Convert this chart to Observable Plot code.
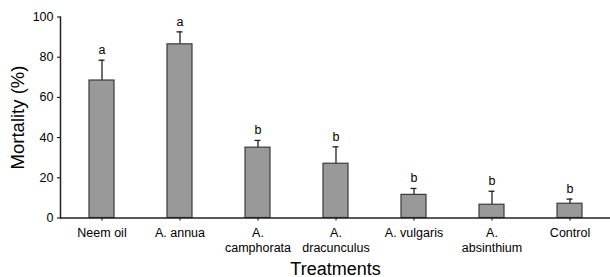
<!DOCTYPE html>
<html>
<head>
<meta charset="utf-8">
<script src="https://cdn.jsdelivr.net/npm/d3@7"></script>
<script src="https://cdn.jsdelivr.net/npm/@observablehq/plot@0.6"></script>
<style>
  body { margin: 0; background: #fff; }
</style>
</head>
<body>
<div id="chart"></div>
<script>
const categories = ["Neem oil", "A. annua", "A. camphorata", "A. dracunculus", "A. vulgaris", "A. absinthium", "Control"];
const tickLabels = ["Neem oil", "A. annua", "A.\ncamphorata", "A.\ndracunculus", "A. vulgaris", "A.\nabsinthium", "Control"];
const mortality = [68.4, 86.4, 35.0, 27.0, 11.5, 6.6, 7.1];
const errorTop = [78.5, 92.6, 38.6, 35.4, 14.7, 13.3, 9.4];
const letters = ["a", "a", "b", "b", "b", "b", "b"];
const yTicks = [0, 20, 40, 60, 80, 100];
const xTitle = "Treatments";
const yTitle = "Mortality (%)";

const data = categories.map((c, i) => ({
  cat: c, value: mortality[i], upper: errorTop[i], letter: letters[i]
}));
const labelOf = new Map(categories.map((c, i) => [c, tickLabels[i]]));

const chart = Plot.plot({
  width: 610,
  height: 277,
  marginLeft: 60,
  marginRight: 0,
  marginTop: 16.5,
  marginBottom: 59.5,
  style: { fontFamily: "'Liberation Sans', Arial, sans-serif", fontSize: "12.5px", color: "#000", background: "#fff" },
  x: { domain: categories, paddingInner: 0.68, paddingOuter: 0.34 },
  y: { domain: [0, 100] },
  marks: [
    Plot.ruleX(data, { x: "cat", y1: "value", y2: "upper", stroke: "#222", strokeWidth: 1.3 }),
    Plot.tickY(data, { x: "cat", y: "upper", stroke: "#222", strokeWidth: 1.3, insetLeft: 9.5, insetRight: 9.5 }),
    Plot.barY(data, { x: "cat", y: "value", fill: "#999999", stroke: "#3a3a3a", strokeWidth: 1.2 }),
    Plot.text(data, { x: "cat", y: "upper", text: "letter", dy: -10, fontSize: 12.5, fill: "black" }),
    Plot.axisX({ tickSize: 3, tickPadding: 5, fill: "black", tickFormat: d => labelOf.get(d), lineHeight: 1.2, label: xTitle, labelAnchor: "center", labelOffset: 56.5, labelArrow: "none" }),
    Plot.axisY({ ticks: yTicks, tickSize: 3, tickPadding: 4, fill: "black", label: yTitle, labelAnchor: "center", labelOffset: 50, labelArrow: "none" }),
    Plot.ruleY([0], { stroke: "#222", strokeWidth: 1.5 }),
    Plot.frame({ anchor: "left", stroke: "#222", strokeWidth: 1.5 })
  ]
});
document.getElementById("chart").appendChild(chart);
d3.select(chart).selectAll("text")
  .filter(function () { return this.textContent === xTitle; })
  .attr("font-size", "18px").style("font-size", "18px");
d3.select(chart).selectAll("text")
  .filter(function () { return this.textContent === yTitle; })
  .attr("font-size", "18.5px").style("font-size", "18.5px");
</script>
</body>
</html>
